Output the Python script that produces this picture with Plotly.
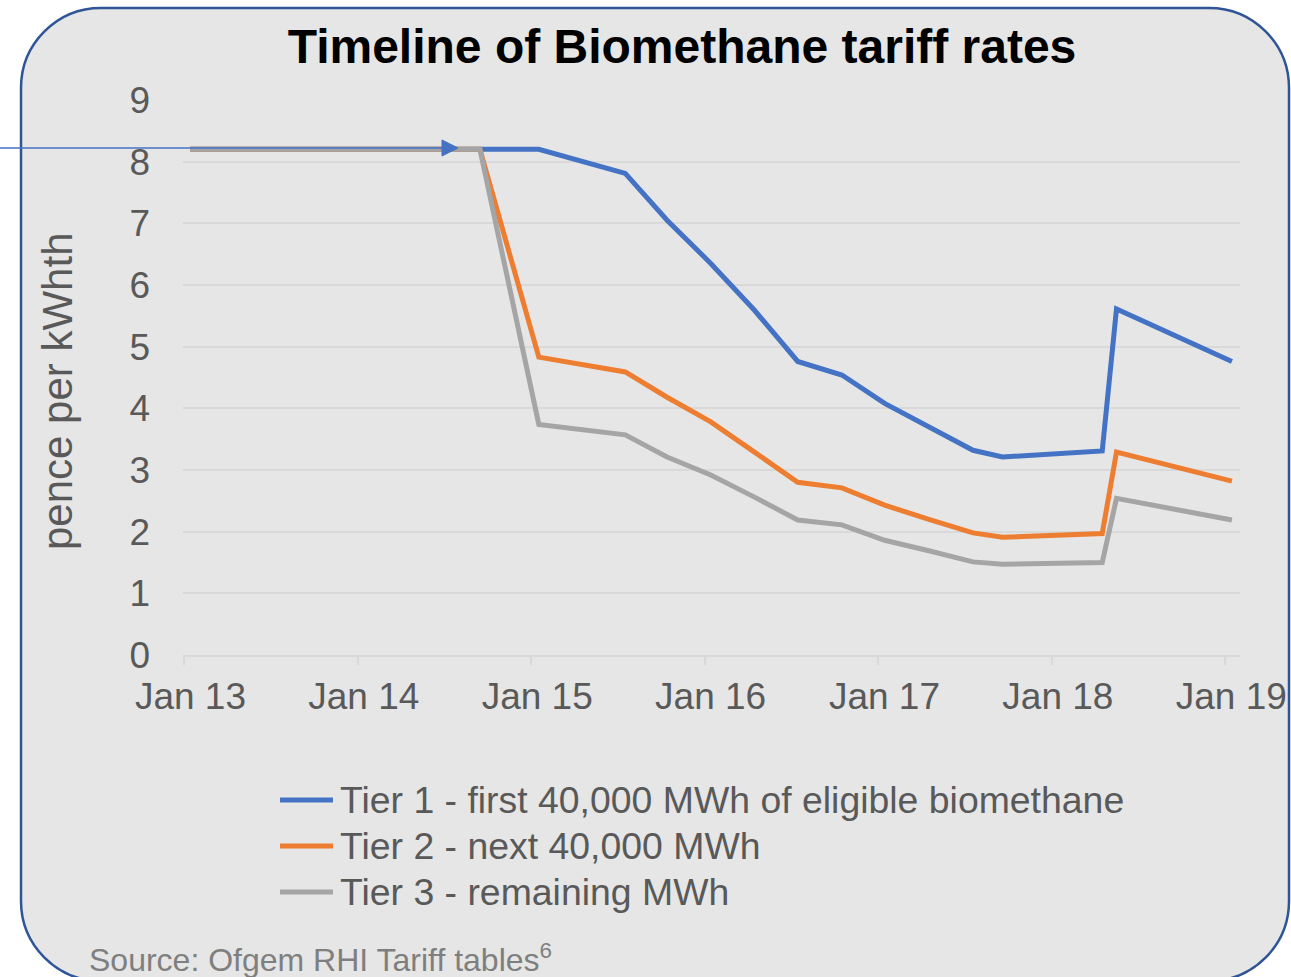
import plotly.graph_objects as go

# ---- data ----
dates = ["2013-01-13", "2014-09-15", "2015-01-17", "2015-07-18", "2015-10-14",
         "2016-01-14", "2016-04-15", "2016-07-15", "2016-10-16", "2017-01-14",
         "2017-04-17", "2017-07-19", "2017-09-19", "2018-04-17", "2018-05-17",
         "2019-01-15"]
tier1 = [8.2, 8.2, 8.2, 7.81, 7.05, 6.35, 5.59, 4.76, 4.54, 4.08, 3.70, 3.32, 3.21, 3.31, 5.61, 4.76]
tier2 = [8.2, 8.2, 4.83, 4.59, 4.18, 3.78, 3.29, 2.80, 2.71, 2.43, 2.20, 1.98, 1.91, 1.97, 3.29, 2.82]
tier3 = [8.2, 8.2, 3.74, 3.57, 3.21, 2.92, 2.56, 2.19, 2.11, 1.86, 1.69, 1.51, 1.47, 1.50, 2.54, 2.19]
names = ["Tier 1 - first 40,000 MWh of eligible biomethane",
         "Tier 2 - next 40,000 MWh",
         "Tier 3 - remaining MWh"]
colors = ["#4472C4", "#ED7D31", "#A5A5A5"]
y_ticks = list(range(0, 10))

W, H = 1291, 977
L, R, T, B = 183, 1240, 100, 655
PW, PH = R - L, B - T

def X(px):
    return (px - L) / PW

def Y(py):
    return (B - py) / PH

FONT = "Liberation Sans, Arial, sans-serif"
GREY = "#595959"

fig = go.Figure()
for name, vals, col in zip(names, [tier1, tier2, tier3], colors):
    fig.add_trace(go.Scatter(x=dates, y=vals, name=name, mode="lines",
                             line=dict(color=col, width=5), showlegend=False))

# rounded panel
x0, x1, y0, y1, r = 21, 1289, 8, 981, 80
k = 0.5523 * r
pts = [("M", [(x0, y0 + r)]),
       ("C", [(x0, y0 + r - k), (x0 + r - k, y0), (x0 + r, y0)]),
       ("L", [(x1 - r, y0)]),
       ("C", [(x1 - r + k, y0), (x1, y0 + r - k), (x1, y0 + r)]),
       ("L", [(x1, y1 - r)]),
       ("C", [(x1, y1 - r + k), (x1 - r + k, y1), (x1 - r, y1)]),
       ("L", [(x0 + r, y1)]),
       ("C", [(x0 + r - k, y1), (x0, y1 - r + k), (x0, y1 - r)])]
path = ""
for cmd, ps in pts:
    path += cmd + " ".join(f"{X(a):.5f},{Y(b):.5f}" for a, b in ps) + " "
path += "Z"

shapes = [dict(type="path", path=path, xref="paper", yref="paper",
               fillcolor="#E6E6E6", line=dict(color="#2F5597", width=2.5),
               layer="below")]
# arrow pointing at the start of the tariff changes
shapes.append(dict(type="line", xref="paper", yref="paper",
                   x0=X(0), x1=X(446), y0=Y(148), y1=Y(148),
                   line=dict(color="#4472C4", width=1.5), layer="above"))
shapes.append(dict(type="path", xref="paper", yref="paper",
                   path=f"M{X(442):.5f},{Y(140):.5f} L{X(458):.5f},{Y(148):.5f} "
                        f"L{X(442):.5f},{Y(156):.5f} Z",
                   fillcolor="#4472C4", line=dict(color="#4472C4", width=1),
                   layer="above"))

annotations = []
# custom legend
legend_rows = [800, 846, 892]
for name, col, ry in zip(names, colors, legend_rows):
    shapes.append(dict(type="line", xref="paper", yref="paper",
                       x0=X(280), x1=X(333), y0=Y(ry), y1=Y(ry),
                       line=dict(color=col, width=5), layer="above"))
    annotations.append(dict(x=X(338), y=Y(ry), xref="paper", yref="paper",
                            text=name, showarrow=False, xanchor="left",
                            yanchor="middle", font=dict(size=37.4, color=GREY)))

annotations.append(dict(x=X(57), y=Y(391), xref="paper", yref="paper",
                        text="pence per kWhth", textangle=-90, showarrow=False,
                        xanchor="center", yanchor="middle",
                        font=dict(size=42, color=GREY)))
annotations.append(dict(x=X(87), y=Y(958), xref="paper", yref="paper",
                        text="Source: Ofgem RHI Tariff tables<sup>6</sup>",
                        showarrow=False, xanchor="left", yanchor="middle",
                        font=dict(size=32, color="#7F7F7F")))

fig.update_layout(
    width=W, height=H,
    margin=dict(l=L, r=W - R, t=T, b=H - B, autoexpand=False),
    paper_bgcolor="white",
    plot_bgcolor="rgba(0,0,0,0)",
    font=dict(family=FONT, color=GREY, size=37),
    showlegend=False,
    title=dict(text="<b>Timeline of Biomethane tariff rates</b>",
               font=dict(family=FONT, size=48, color="black"),
               xref="container", yref="container",
               x=682 / W, xanchor="center", y=1 - 46 / H, yanchor="middle"),
    shapes=shapes,
    annotations=annotations,
    xaxis=dict(type="date", range=["2012-12-29", "2019-02-01"],
               tickformat="%b %y", dtick="M12", tick0="2013-01-01",
               showgrid=False, showline=True, linecolor="#D9D9D9", linewidth=1.5,
               ticks="outside", ticklen=8, tickwidth=1.5, tickcolor="#D9D9D9",
               ticklabelshift=6,
               tickfont=dict(size=37, color=GREY), zeroline=False),
    yaxis=dict(range=[0, 9], tickvals=y_ticks, showgrid=True,
               gridcolor="#D9D9D9", gridwidth=1.5, zeroline=False,
               showline=False, ticks="", ticklabelstandoff=32,
               tickfont=dict(size=37, color=GREY)),
)

fig.write_html("out.html",
               config={"displayModeBar": False},
               post_script="document.body.style.margin='0';"
                           "document.body.style.overflow='hidden';")
